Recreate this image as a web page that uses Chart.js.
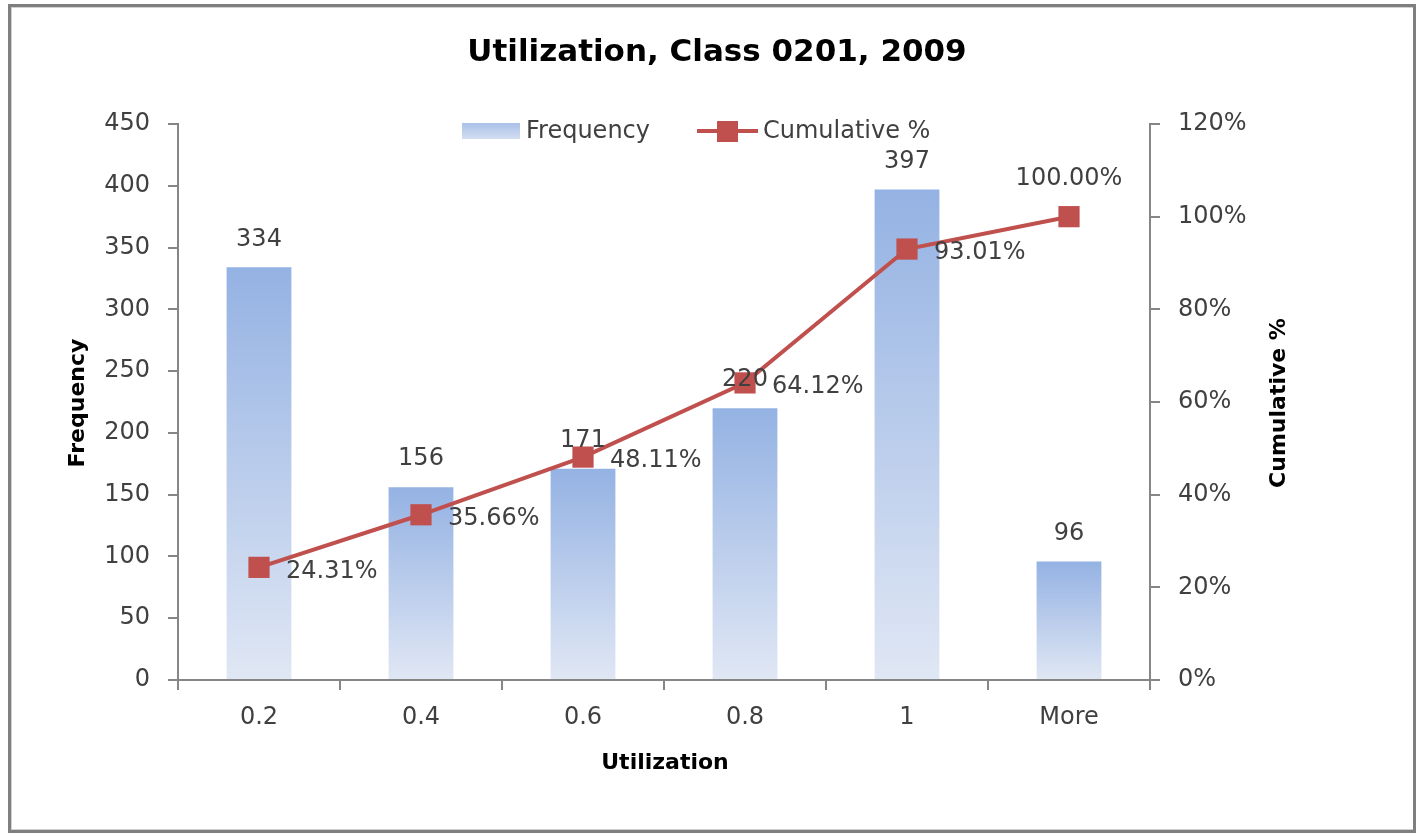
<!DOCTYPE html>
<html>
<head>
<meta charset="utf-8">
<title>Utilization, Class 0201, 2009</title>
<script src="https://cdn.jsdelivr.net/npm/chart.js@4.4.1/dist/chart.umd.min.js"></script>
<style>
  html, body { margin: 0; padding: 0; background: #fff; }
  canvas { display: block; }
</style>
</head>
<body>
<canvas id="paretoChart" width="1421" height="836"></canvas>
<script>
// Data
const categories = ['0.2', '0.4', '0.6', '0.8', '1', 'More'];
const frequency = [334, 156, 171, 220, 397, 96];
const cumulative = [24.31, 35.66, 48.11, 64.12, 93.01, 100.00];
const freqTicks = [0, 50, 100, 150, 200, 250, 300, 350, 400, 450];
const pctTicks = [0, 20, 40, 60, 80, 100, 120];

const FONT = '"DejaVu Sans", "Open Sans", sans-serif';
const TEXT = '#404040';
const AXIS = '#868686';
const RED = '#c0504d';

// bar fill: each bar fades from blue at its top to pale at the base
function barFill(ctx) {
  const chart = ctx.chart;
  const area = chart.chartArea;
  if (!area || ctx.type !== 'data') return '#b3c8ea';
  const top = chart.scales.y.getPixelForValue(ctx.raw);
  const g = chart.ctx.createLinearGradient(0, top, 0, area.bottom);
  g.addColorStop(0, '#94b2e3');
  g.addColorStop(1, '#e0e7f4');
  return g;
}

// frame, title, axis titles, legend and data labels
const decorations = {
  id: 'decorations',
  beforeDraw(chart) {
    const c = chart.ctx;
    c.save();
    c.fillStyle = '#fff';
    c.fillRect(0, 0, chart.width, chart.height);
    c.strokeStyle = '#d0d0d0';
    c.lineWidth = 2;
    c.strokeRect(11, 7, 1403, 823);
    c.strokeStyle = '#7f7f7f';
    c.lineWidth = 3;
    c.strokeRect(9.5, 5.5, 1405, 826);
    c.restore();
  },
  afterDatasetsDraw(chart) {
    const c = chart.ctx;
    c.save();

    // title
    c.fillStyle = '#000';
    c.textAlign = 'center';
    c.textBaseline = 'middle';
    c.font = 'bold 31px ' + FONT;
    c.fillText('Utilization, Class 0201, 2009', 717, 53);

    // axis titles
    c.font = 'bold 22px ' + FONT;
    c.fillText('Utilization', 665, 763);
    c.save();
    c.translate(78, 403);
    c.rotate(-Math.PI / 2);
    c.fillText('Frequency', 0, 0);
    c.restore();
    c.save();
    c.translate(1279, 403);
    c.rotate(-Math.PI / 2);
    c.fillText('Cumulative %', 0, 0);
    c.restore();

    // legend
    const lg = c.createLinearGradient(0, 123, 0, 140);
    lg.addColorStop(0, '#a9c0e8');
    lg.addColorStop(1, '#d6e0f2');
    c.fillStyle = lg;
    c.fillRect(462, 123, 58, 16);
    c.strokeStyle = RED;
    c.lineWidth = 4;
    c.beginPath();
    c.moveTo(697, 131);
    c.lineTo(758, 131);
    c.stroke();
    c.fillStyle = RED;
    c.fillRect(717, 121, 21, 21);
    c.fillStyle = TEXT;
    c.textAlign = 'left';
    c.font = '24px ' + FONT;
    c.fillText('Frequency', 526, 132);
    c.fillText('Cumulative %', 763, 132);

    // bar value labels
    c.textAlign = 'center';
    const bars = chart.getDatasetMeta(0).data;
    bars.forEach((bar, i) => {
      c.fillText(String(frequency[i]), bar.x, bar.y - 28);
    });

    // cumulative labels, right of the point (last one above)
    const pts = chart.getDatasetMeta(1).data;
    pts.forEach((pt, i) => {
      const txt = cumulative[i].toFixed(2) + '%';
      if (i === pts.length - 1) {
        c.textAlign = 'center';
        c.fillText(txt, pt.x, pt.y - 38);
      } else {
        c.textAlign = 'left';
        c.fillText(txt, pt.x + 27, pt.y + 4);
      }
    });
    c.restore();
  }
};

const ctx = document.getElementById('paretoChart');
new Chart(ctx.getContext('2d'), {
  type: 'bar',
  data: {
    labels: categories,
    datasets: [
      {
        type: 'bar',
        label: 'Frequency',
        data: frequency,
        backgroundColor: barFill,
        barPercentage: 1,
        categoryPercentage: 0.4,
        yAxisID: 'y',
        order: 2
      },
      {
        type: 'line',
        label: 'Cumulative %',
        data: cumulative,
        borderColor: RED,
        backgroundColor: RED,
        borderWidth: 4,
        pointStyle: 'rect',
        pointRadius: 15,
        pointBorderWidth: 0,
        pointBackgroundColor: RED,
        tension: 0,
        yAxisID: 'y1',
        order: 1
      }
    ]
  },
  options: {
    responsive: false,
    animation: false,
    layout: {
      padding: { left: 58, right: 151, top: 124, bottom: 56 }
    },
    plugins: {
      legend: { display: false },
      title: { display: false },
      tooltip: { enabled: false }
    },
    scales: {
      x: {
        offset: true,
        grid: {
          offset: true,
          drawOnChartArea: false,
          tickLength: 10,
          color: AXIS,
          lineWidth: 2
        },
        border: { color: AXIS, width: 2 },
        ticks: {
          color: TEXT,
          padding: 13,
          font: { family: FONT, size: 24 }
        },
        afterFit(scale) { scale.height = 100; }
      },
      y: {
        position: 'left',
        min: freqTicks[0],
        max: freqTicks[freqTicks.length - 1],
        afterBuildTicks(scale) {
          scale.ticks = freqTicks.map(v => ({ value: v }));
        },
        grid: {
          drawOnChartArea: false,
          tickLength: 10,
          color: AXIS,
          lineWidth: 2
        },
        border: { color: AXIS, width: 2 },
        ticks: {
          color: TEXT,
          padding: 18,
          font: { family: FONT, size: 24 }
        },
        afterFit(scale) { scale.width = 120; }
      },
      y1: {
        position: 'right',
        min: pctTicks[0],
        max: pctTicks[pctTicks.length - 1],
        afterBuildTicks(scale) {
          scale.ticks = pctTicks.map(v => ({ value: v }));
        },
        grid: {
          drawOnChartArea: false,
          tickLength: 10,
          color: AXIS,
          lineWidth: 2
        },
        border: { color: AXIS, width: 2 },
        ticks: {
          color: TEXT,
          padding: 18,
          font: { family: FONT, size: 24 },
          callback: v => v + '%'
        },
        afterFit(scale) { scale.width = 120; }
      }
    }
  },
  plugins: [decorations]
});
</script>
</body>
</html>
